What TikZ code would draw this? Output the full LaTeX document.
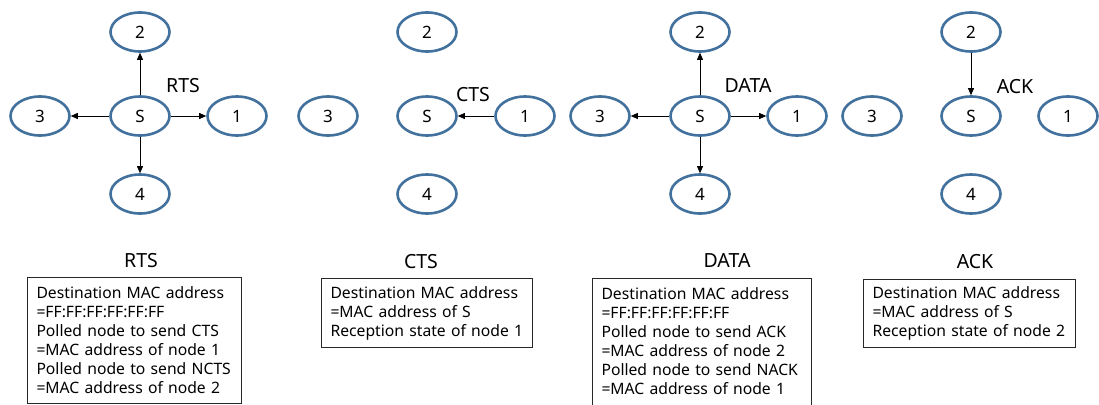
\documentclass[tikz,border=0pt]{standalone}
\usepackage{fontspec}
\setmainfont{Noto Sans}
\usetikzlibrary{shapes.geometric,arrows.meta}
\definecolor{nodeblue}{RGB}{65,113,156}
\definecolor{framegray}{RGB}{40,40,40}
\begin{document}
\begin{tikzpicture}[x=1pt,y=-1pt,
  station/.style={ellipse,draw=nodeblue,line width=2.6pt,minimum width=59pt,
    minimum height=39pt,inner sep=0pt,font=\fontsize{17}{20}\selectfont},
  msg/.style={-{Triangle[length=7pt,width=6pt]},line width=0.8pt,black},
  tag/.style={font=\fontsize{19.5}{22}\selectfont},
  frame/.style={draw=framegray,line width=1pt,anchor=north west,align=left,
    inner xsep=9pt,inner ysep=0pt,font=\fontsize{15.7}{19}\selectfont}
]
\clip (0,0) rectangle (1099,404);
\fill[white] (0,0) rectangle (1099,404);

% ---- RTS: S polls all neighbours ----
\node[station] (aS) at (140,116) {S};
\node[station] (a2) at (140,32)  {2};
\node[station] (a3) at (40,116)  {3};
\node[station] (a1) at (237,116) {1};
\node[station] (a4) at (140,194) {4};
\draw[msg] (aS) -- (a2);
\draw[msg] (aS) -- (a3);
\draw[msg] (aS) -- (a1);
\draw[msg] (aS) -- (a4);
\node[tag] (aL) at (183,86) {RTS};

% ---- CTS: node 1 answers S ----
\node[station] (bS) at (427,116) {S};
\node[station] (b2) at (427,32)  {2};
\node[station] (b3) at (328,116) {3};
\node[station] (b1) at (525,116) {1};
\node[station] (b4) at (427,194) {4};
\draw[msg] (b1) -- (bS);
\node[tag] (bL) at (473,95) {CTS};

% ---- DATA: S sends to all neighbours ----
\node[station] (cS) at (700,116) {S};
\node[station] (c2) at (700,32)  {2};
\node[station] (c3) at (600,116) {3};
\node[station] (c1) at (797,116) {1};
\node[station] (c4) at (700,194) {4};
\draw[msg] (cS) -- (c2);
\draw[msg] (cS) -- (c3);
\draw[msg] (cS) -- (c1);
\draw[msg] (cS) -- (c4);
\node[tag] (cL) at (748,86) {DATA};

% ---- ACK: node 2 answers S ----
\node[station] (dS) at (971,116) {S};
\node[station] (d2) at (971,32)  {2};
\node[station] (d3) at (872,116) {3};
\node[station] (d1) at (1068,116) {1};
\node[station] (d4) at (971,194) {4};
\draw[msg] (d2) -- (dS);
\node[tag] (dL) at (1015,87) {ACK};

% ---- frame titles ----
\node[tag] (aT) at (141,261) {RTS};
\node[tag] (bT) at (421,262) {CTS};
\node[tag] (cT) at (727,261) {DATA};
\node[tag] (dT) at (975,262) {ACK};

% ---- frame contents ----
\node[frame,minimum width=214pt,minimum height=126pt,text width=196pt] (aF) at (27,277)
  {Destination MAC address\\=FF:FF:FF:FF:FF:FF\\Polled node to send CTS\\
   =MAC address of node 1\\Polled node to send NCTS\\=MAC address of node 2};
\node[frame,minimum width=211pt,minimum height=69pt,text width=193pt] (bF) at (321,278)
  {Destination MAC address\\=MAC address of S\\Reception state of node 1};
\node[frame,draw=none,minimum width=218pt,minimum height=126pt,text width=200pt] (cF) at (592,278)
  {Destination MAC address\\=FF:FF:FF:FF:FF:FF\\Polled node to send ACK\\
   =MAC address of node 2\\Polled node to send NACK\\=MAC address of node 1};
% this frame runs on below the lower edge
\draw[framegray,line width=1pt] ([yshift=-10pt]cF.south west) -- (cF.north west)
  -- (cF.north east) -- ([yshift=-10pt]cF.south east);
\node[frame,minimum width=212pt,minimum height=68pt,text width=194pt] (dF) at (863,279)
  {Destination MAC address\\=MAC address of S\\Reception state of node 2};
\end{tikzpicture}
\end{document}
